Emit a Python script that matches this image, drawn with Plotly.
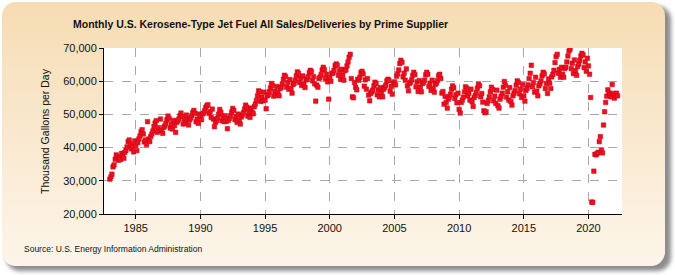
import base64
import pandas as pd
import plotly.graph_objects as go

# monthly sales, thousand gallons per day, Jan 1983 onward
sales_1980s = [
    30500, 31200, 32000, 34200, 34800, 36500, 37800, 37200, 36200, 37000, 36400, 38300,
    37500, 36800, 38600, 39200, 40200, 41800, 42300, 41000, 39600, 40400, 38700, 42000,
    40600, 39100, 41500, 42600, 43500, 44800, 45400, 44100, 41700, 42300, 40900, 47800,
    42600, 41800, 43400, 44100, 45000, 46300, 47400, 48100, 44600, 46000, 45100, 48600,
    45200, 44300, 46100, 46500, 47300, 48400, 49500, 48800, 45900, 47100, 45600, 48200,
    46600, 44600, 47600, 48000, 48600, 49600, 50400, 49400, 47100, 48600, 47400, 49800,
    48400, 46800, 48300, 48900, 49600, 50600, 51200, 50300, 47800, 48600, 47300, 50100,
]
sales_1990s = [
    49500, 48400, 50100, 50400, 51100, 52100, 52600, 52900, 50300, 50800, 49100, 51600,
    48600, 46300, 47600, 48100, 48900, 50100, 51500, 50600, 48100, 49100, 47800, 49600,
    47900, 45700, 48200, 48800, 49600, 50700, 51800, 51200, 48400, 49300, 47600, 50100,
    48300, 47100, 49200, 49800, 50600, 51600, 52800, 52200, 49500, 50800, 49100, 51900,
    50600, 50200, 52300, 53100, 54200, 55600, 57100, 56800, 53900, 55200, 54100, 56700,
    54300, 51700, 55600, 55900, 56800, 58000, 59300, 58700, 55500, 57000, 55800, 58400,
    56600, 55600, 57800, 58200, 59200, 60600, 61800, 61400, 58200, 59600, 57600, 60500,
    57800, 56400, 59000, 59400, 60300, 61600, 62800, 62400, 59600, 60900, 58700, 61600,
    59100, 58100, 60400, 60600, 61300, 62600, 63300, 62900, 60100, 61400, 59200, 54000,
    58800, 58200, 60800, 61200, 62000, 63400, 64200, 63500, 60800, 62100, 59800, 54600,
]
sales_2000s = [
    61000, 60000, 62300, 62500, 63300, 64700, 65200, 64800, 61800, 63200, 60600, 63600,
    61800, 60300, 63200, 63400, 64600, 65800, 67200, 68100, 60800, 55300, 55000, 59600,
    58200, 57400, 60600, 60300, 61200, 62600, 63000, 62200, 58500, 60400, 57600, 60800,
    55800, 54100, 56300, 56800, 57300, 58600, 59700, 59200, 55900, 57400, 55300, 58100,
    56600, 55300, 57600, 58200, 58800, 60100, 60600, 60200, 57000, 58400, 56100, 59400,
    59800, 58900, 61500, 62200, 63400, 65300, 66300, 65700, 61300, 62400, 60300, 63700,
    58600, 57100, 59300, 59700, 60400, 61800, 62700, 62000, 58300, 59800, 56900, 60200,
    58200, 56800, 59300, 59600, 60300, 61900, 62700, 62100, 58400, 59400, 57200, 60300,
    57800, 56700, 59100, 59400, 60200, 61700, 62100, 60800, 56400, 56900, 53100, 55400,
    53600, 51900, 54600, 55200, 56100, 57600, 58600, 58000, 54800, 55900, 53500, 56400,
]
sales_2010s = [
    51500, 50400, 53600, 54300, 55200, 56800, 58300, 57900, 55600, 56400, 54300, 57600,
    53800, 52400, 55100, 55700, 56600, 57900, 59200, 58600, 55300, 56300, 53700, 51100,
    50500, 50800, 53300, 54100, 55300, 56800, 58200, 57500, 54100, 55500, 53300, 57300,
    52600, 51900, 54600, 55400, 56400, 58200, 59900, 58800, 55200, 56800, 54300, 58100,
    53900, 52800, 55600, 56400, 57200, 58800, 60100, 59600, 56200, 57600, 55100, 59000,
    55600, 54000, 57200, 57800, 58900, 60800, 62400, 64800, 58300, 59600, 56700, 61200,
    57000, 55600, 58600, 59200, 60100, 61600, 62700, 62200, 57800, 59300, 56300, 60700,
    59400, 57800, 61300, 62100, 63300, 65600, 67400, 68100, 62400, 63600, 61200, 64200,
    62100, 61200, 63800, 64200, 65800, 67600, 69100, 69700, 63800, 65400, 62300, 66400,
    63200, 61800, 64400, 65200, 66300, 67600, 68400, 67900, 64100, 65800, 63000, 66900,
]
sales_2020s = [
    64600, 62100, 55100, 23600, 23500, 32900, 38000, 37800, 38200, 38600, 41800, 43300,
    39300, 38400, 46800, 50800, 53600, 55500, 57400, 56500, 55800, 55300, 59000, 56300,
    54900, 55700, 56400, 55600,
]

sales = sales_1980s + sales_1990s + sales_2000s + sales_2010s + sales_2020s
months = pd.date_range("1983-01-01", periods=len(sales), freq="MS")

title = "Monthly U.S. Kerosene-Type Jet Fuel All Sales/Deliveries by Prime Supplier"
y_title = "Thousand Gallons per Day"
source = "Source: U.S. Energy Information Administration"

W, H = 675, 275
L, R, T, B = 104, 53, 48, 61
pw, ph = W - L - R, H - T - B

# beige rounded panel with drop shadow, as background image
svg = (
    f"<svg xmlns='http://www.w3.org/2000/svg' width='{W}' height='{H}'>"
    "<defs><linearGradient id='g' x1='0' y1='0' x2='0' y2='1'>"
    "<stop offset='0' stop-color='#f6dcb3'/><stop offset='1' stop-color='#fdf5ea'/>"
    "</linearGradient><filter id='f'><feGaussianBlur stdDeviation='2'/></filter></defs>"
    "<rect x='6' y='6' width='665' height='265' rx='14' fill='#8c8c8c' filter='url(#f)'/>"
    "<rect x='2' y='2' width='663' height='264' rx='14' fill='url(#g)'/>"
    "</svg>"
)
bg_src = "data:image/svg+xml;base64," + base64.b64encode(svg.encode()).decode()

fig = go.Figure()
fig.add_trace(go.Scatter(
    x=months, y=sales, mode="markers",
    marker=dict(symbol="square", size=4.5, color="#ee1020",
                line=dict(width=0.5, color="#c80010")),
    hoverinfo="x+y", showlegend=False,
))

fig.add_layout_image(
    source=bg_src, xref="paper", yref="paper",
    x=-L / pw, y=1 + T / ph, sizex=W / pw, sizey=H / ph,
    xanchor="left", yanchor="top", sizing="stretch", layer="below",
)
fig.add_shape(type="rect", xref="paper", yref="paper", x0=0, x1=1, y0=0, y1=1,
              fillcolor="white", line=dict(width=0), layer="below")

fig.add_annotation(text=f"<b>{title}</b>", xref="paper", yref="paper",
                   x=(260 - L) / pw, y=1 + (T - 24) / ph, xanchor="center", yanchor="middle",
                   showarrow=False, font=dict(size=10.5, color="#111"))
fig.add_annotation(text=y_title, xref="paper", yref="paper", textangle=-90,
                   x=(45 - L) / pw, y=0.5, xanchor="center", yanchor="middle",
                   showarrow=False, font=dict(size=10.5, color="#111"))
fig.add_annotation(text=source, xref="paper", yref="paper",
                   x=(22 - L) / pw, y=-(249 - T - ph) / ph, xanchor="left", yanchor="middle",
                   showarrow=False, font=dict(size=8.5, color="#111"))

fig.update_layout(
    width=W, height=H, margin=dict(l=L, r=R, t=T, b=B),
    paper_bgcolor="white", plot_bgcolor="white",
    font=dict(family="Liberation Sans, Arial, sans-serif", size=11, color="#111"),
    xaxis=dict(
        type="date", range=["1982-07-20", "2022-08-05"],
        tick0="1985-01-01", dtick="M60", tickformat="%Y",
        showgrid=True, gridcolor="#a8a8a8", griddash="dash", gridwidth=1,
        showline=True, linecolor="black", linewidth=1,
        ticks="outside", ticklen=4, tickcolor="black",
        zeroline=False, fixedrange=True,
    ),
    yaxis=dict(
        range=[20000, 70000], dtick=10000, tickformat=",d",
        showgrid=True, gridcolor="#a8a8a8", griddash="dash", gridwidth=1,
        showline=True, linecolor="black", linewidth=1,
        ticks="outside", ticklen=4, tickcolor="black",
        zeroline=False, fixedrange=True,
    ),
)

# drop the default 8px page margin so the chart sits at the window corner
fig.write_html("out.html", config={"displayModeBar": False},
               post_script="document.body.style.margin='0';")
